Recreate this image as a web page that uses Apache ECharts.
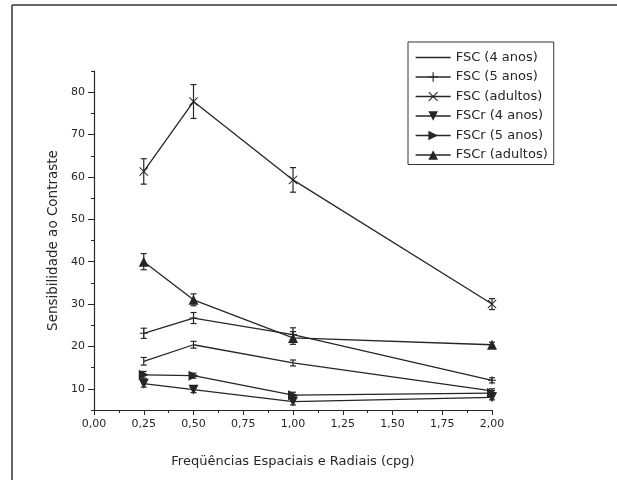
<!DOCTYPE html>
<html>
<head>
<meta charset="utf-8">
<script src="https://cdn.jsdelivr.net/npm/echarts@6/dist/echarts.min.js"></script>
<style>html,body{margin:0;padding:0;background:#fff}#c{width:617px;height:480px}</style>
</head>
<body>
<div id="c"></div>
<script>
// ---- data ----
var xValues = [0.25, 0.5, 1.0, 2.0];
var seriesNames = ['FSC (4 anos)', 'FSC (5 anos)', 'FSC (adultos)', 'FSCr (4 anos)', 'FSCr (5 anos)', 'FSCr (adultos)'];
var fsc4 = [16.5, 20.4, 16.1, 9.5];
var fsc4Err = [0.9, 0.8, 0.7, 0.5];
var fsc5 = [23.1, 26.7, 22.8, 12.0];
var fsc5Err = [1.2, 1.3, 1.6, 0.6];
var fscAd = [61.3, 77.8, 59.3, 30.0];
var fscAdErr = [3.0, 4.0, 2.9, 1.3];
var fscr4 = [11.2, 9.8, 7.0, 8.0];
var fscr4Err = [0.8, 0.7, 0.8, 0.6];
var fscr5 = [13.3, 13.1, 8.5, 9.0];
var fscr5Err = [0.8, 0.6, 0.7, 0.6];
var fscrAd = [40.0, 31.0, 22.0, 20.4];
var fscrAdErr = [1.9, 1.4, 1.5, 0.6];
var yMajorTicks = [10, 20, 30, 40, 50, 60, 70, 80];
var yMinorTicks = [5, 15, 25, 35, 45, 55, 65, 75, 85];

var ink = '#262626';
var values = [fsc4, fsc5, fscAd, fscr4, fscr5, fscrAd];
var errors = [fsc4Err, fsc5Err, fscAdErr, fscr4Err, fscr5Err, fscrAdErr];
var symbols = [
  'none',
  'path://M4.4,0h1.2v10h-1.2z M0,4.4h10v1.2h-10z',
  'path://M0,0.8L0.8,0L10,9.2L9.2,10Z M9.2,0L10,0.8L0.8,10L0,9.2Z',
  'path://M0,0L10,0L5,10Z',
  'path://M0,0L10,5L0,10Z',
  'path://M5,0L10,10L0,10Z'
];
var symSizes = [0, 8, 9, 10, 10, 10];
var plainLineIcon = 'path://M0,0h0.01v0.01h-0.01z M0,5.3h35v1.5h-35z M34.99,11.99h0.01v0.01h-0.01z';

function pairs(arr) { return xValues.map(function (x, i) { return [x, arr[i]]; }); }

var series = [];
for (var s = 0; s < 6; s++) {
  series.push({
    name: seriesNames[s], type: 'line', data: pairs(values[s]),
    symbol: symbols[s], symbolSize: symSizes[s], showSymbol: symbols[s] !== 'none',
    lineStyle: { color: ink, width: 1.3 }, itemStyle: { color: ink },
    emphasis: { disabled: true }, animation: false, z: 3
  });
}
for (var s2 = 0; s2 < 6; s2++) {
  (function (k) {
    series.push({
      type: 'custom', silent: true, animation: false, z: 4,
      data: xValues.map(function (x, i) { return [x, values[k][i], errors[k][i]]; }),
      renderItem: function (params, api) {
        var x = api.value(0), v = api.value(1), e = api.value(2);
        var top = api.coord([x, v + e]);
        var bot = api.coord([x, v - e]);
        var w = 3;
        var st = { stroke: ink, lineWidth: 1.2, fill: null };
        return { type: 'group', children: [
          { type: 'line', shape: { x1: top[0], y1: top[1], x2: bot[0], y2: bot[1] }, style: st },
          { type: 'line', shape: { x1: top[0] - w, y1: top[1], x2: top[0] + w, y2: top[1] }, style: st },
          { type: 'line', shape: { x1: bot[0] - w, y1: bot[1], x2: bot[0] + w, y2: bot[1] }, style: st }
        ] };
      }
    });
  })(s2);
}

var legendData = seriesNames.map(function (n, i) {
  return i === 0 ? { name: n, icon: plainLineIcon } : { name: n };
});

var chart = echarts.init(document.getElementById('c'), null, { renderer: 'canvas' });
chart.setOption({
  backgroundColor: '#fff',
  animation: false,
  textStyle: { fontFamily: 'DejaVu Sans', color: ink },
  grid: { left: 94, right: 125, top: 71, bottom: 70, containLabel: false },
  legend: {
    data: legendData, orient: 'vertical', left: 408, top: 42,
    itemWidth: 35, itemHeight: 12, itemGap: 6.5,
    padding: [9, 6, 3, 7], borderColor: '#333', borderWidth: 1,
    lineStyle: { width: 1.3 },
    textStyle: { fontFamily: 'DejaVu Sans', fontSize: 13, color: ink },
    selectedMode: false
  },
  xAxis: {
    type: 'value', min: 0, max: 2, interval: 0.25,
    name: 'Freqüências Espaciais e Radiais (cpg)', nameLocation: 'middle', nameGap: 45,
    nameTextStyle: { fontFamily: 'DejaVu Sans', fontSize: 13, color: ink },
    axisLine: { show: true, lineStyle: { color: ink, width: 1.2 } },
    axisTick: { show: true, length: 5, lineStyle: { color: ink } },
    minorTick: { show: true, splitNumber: 2, length: 3, lineStyle: { color: ink } },
    axisLabel: { margin: 9, fontSize: 11, fontFamily: 'DejaVu Sans', color: ink,
      formatter: function (v) { return v.toFixed(2).replace('.', ','); } },
    splitLine: { show: false }
  },
  yAxis: [{
    type: 'value', min: 5, max: 85, interval: 5,
    name: 'Sensibilidade ao Contraste', nameLocation: 'middle', nameGap: 31,
    nameTextStyle: { fontFamily: 'DejaVu Sans', fontSize: 13.5, color: ink },
    axisLine: { show: true, lineStyle: { color: ink, width: 1.2 } },
    axisTick: { show: true, length: 6, customValues: yMajorTicks, lineStyle: { color: ink } },
    axisLabel: { margin: 9, fontSize: 11, fontFamily: 'DejaVu Sans', color: ink, customValues: yMajorTicks },
    splitLine: { show: false }
  }, {
    type: 'value', min: 5, max: 85, interval: 5, position: 'left',
    axisLine: { show: false },
    axisTick: { show: true, length: 3, customValues: yMinorTicks, lineStyle: { color: ink } },
    axisLabel: { show: false },
    splitLine: { show: false }
  }],
  graphic: [
    { type: 'line', shape: { x1: 12, y1: 5, x2: 617, y2: 5 }, style: { stroke: '#333', lineWidth: 1.5 } },
    { type: 'line', shape: { x1: 12, y1: 5, x2: 12, y2: 480 }, style: { stroke: '#333', lineWidth: 1.5 } }
  ],
  series: series
});
</script>
</body>
</html>
